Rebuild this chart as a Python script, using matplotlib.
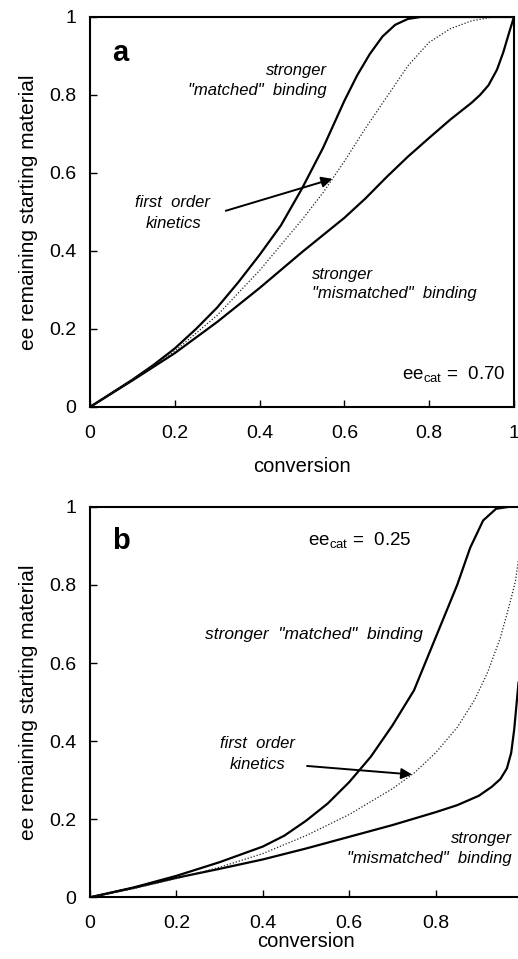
import matplotlib
matplotlib.use("Agg")
import matplotlib.pyplot as plt

plt.rcParams['font.family'] = ['Liberation Sans', 'DejaVu Sans']
plt.rcParams['mathtext.fontset'] = 'custom'
plt.rcParams['mathtext.rm'] = 'Liberation Sans'

# panel a (ee_cat = 0.70)
a_conv_matched = [0, 0.05, 0.1, 0.15, 0.2, 0.25, 0.3, 0.35, 0.4, 0.45, 0.5, 0.55,
                  0.6, 0.63, 0.66, 0.69, 0.72, 0.75, 0.78, 1.0]
a_ee_matched = [0, 0.035, 0.07, 0.108, 0.15, 0.2, 0.255, 0.32, 0.39, 0.465, 0.56, 0.665,
                0.785, 0.85, 0.905, 0.95, 0.98, 0.995, 1.0, 1.0]
a_conv_first = [0, 0.1, 0.2, 0.3, 0.4, 0.45, 0.5, 0.55, 0.6, 0.65, 0.7, 0.75, 0.8,
                0.85, 0.9, 0.95, 1.0]
a_ee_first = [0, 0.07, 0.143, 0.235, 0.35, 0.415, 0.48, 0.55, 0.63, 0.715, 0.795, 0.875,
              0.935, 0.97, 0.99, 1.0, 1.0]
a_conv_mismatched = [0, 0.1, 0.2, 0.3, 0.4, 0.5, 0.6, 0.65, 0.7, 0.75, 0.8, 0.85, 0.9,
                     0.92, 0.94, 0.96, 0.975, 0.99, 1.0]
a_ee_mismatched = [0, 0.068, 0.138, 0.218, 0.305, 0.397, 0.485, 0.535, 0.59, 0.642, 0.69,
                   0.737, 0.78, 0.8, 0.825, 0.865, 0.91, 0.965, 1.0]

# panel b (ee_cat = 0.25)
b_conv_matched = [0, 0.1, 0.2, 0.3, 0.4, 0.45, 0.5, 0.55, 0.6, 0.65, 0.7, 0.75, 0.8,
                  0.85, 0.88, 0.91, 0.94, 0.97, 1.0]
b_ee_matched = [0, 0.025, 0.055, 0.09, 0.13, 0.158, 0.196, 0.24, 0.295, 0.36, 0.44, 0.53,
                0.665, 0.8, 0.895, 0.965, 0.995, 1.0, 1.0]
b_conv_first = [0, 0.1, 0.2, 0.3, 0.4, 0.5, 0.6, 0.7, 0.75, 0.8, 0.85, 0.89, 0.92, 0.95,
                0.97, 0.985, 0.995, 1.0]
b_ee_first = [0, 0.022, 0.048, 0.077, 0.112, 0.158, 0.212, 0.278, 0.318, 0.37, 0.435,
              0.505, 0.575, 0.665, 0.745, 0.81, 0.89, 0.935]
b_conv_mismatched = [0, 0.1, 0.2, 0.3, 0.4, 0.5, 0.6, 0.7, 0.8, 0.85, 0.9, 0.93, 0.95,
                     0.965, 0.975, 0.982, 0.987, 0.992]
b_ee_mismatched = [0, 0.024, 0.05, 0.073, 0.097, 0.125, 0.155, 0.185, 0.218, 0.236, 0.26,
                   0.283, 0.303, 0.33, 0.37, 0.43, 0.49, 0.55]

ticks = [0, 0.2, 0.4, 0.6, 0.8, 1]
ticklabels = ['0', '0.2', '0.4', '0.6', '0.8', '1']

fig = plt.figure(figsize=(5.18, 9.59), dpi=100)
ax = fig.add_axes([0.1737, 0.5756, 0.8185, 0.4067])
ax1 = fig.add_axes([0.1737, 0.0643, 0.834, 0.4072])


def style(axx, xpad):
    axx.set_xlim(0, 1)
    axx.set_ylim(0, 1)
    axx.set_xticks(ticks)
    axx.set_yticks(ticks)
    axx.set_xticklabels(ticklabels)
    axx.set_yticklabels(ticklabels)
    axx.tick_params(direction='in', length=5, width=1, labelsize=14)
    axx.tick_params(axis='x', pad=13)
    axx.tick_params(axis='y', pad=10)
    for s in axx.spines.values():
        s.set_linewidth(1.5)
    axx.set_xlabel('conversion', fontsize=14.5, labelpad=xpad)
    axx.set_ylabel('ee remaining starting material', fontsize=15, labelpad=8)


style(ax, 11)
style(ax1, 0)
# the right end of panel b runs off the page, so its "1" label is not shown
ax1.set_xticklabels(ticklabels[:-1] + [''])

# panel a
ax.plot(a_conv_matched, a_ee_matched, color='k', lw=1.6)
ax.plot(a_conv_mismatched, a_ee_mismatched, color='k', lw=1.6)
ax.plot(a_conv_first, a_ee_first, color='#222222', lw=0.9, ls=(0, (1, 1.5)))
ax.annotate('', xy=(0.578, 0.587), xytext=(0.314, 0.501),
            arrowprops=dict(arrowstyle='-|>', color='k', lw=1.4, mutation_scale=16))
ax.text(0.052, 0.908, 'a', fontsize=21, fontweight='bold', ha='left', va='center')
ax.text(0.559, 0.864, 'stronger', fontsize=12, style='italic', ha='right', va='center')
ax.text(0.559, 0.812, '"matched"  binding', fontsize=12, style='italic', ha='right', va='center')
ax.text(0.195, 0.525, 'first  order', fontsize=12, style='italic', ha='center', va='center')
ax.text(0.197, 0.47, 'kinetics', fontsize=12, style='italic', ha='center', va='center')
ax.text(0.524, 0.339, 'stronger', fontsize=12, style='italic', ha='left', va='center')
ax.text(0.524, 0.29, '"mismatched"  binding', fontsize=12, style='italic', ha='left', va='center')
ax.text(0.979, 0.083, 'ee$_\\mathregular{cat}$ =  0.70', fontsize=13.5, ha='right', va='center')

# panel b
ax1.plot(b_conv_matched, b_ee_matched, color='k', lw=1.6)
ax1.plot(b_conv_mismatched, b_ee_mismatched, color='k', lw=1.6)
ax1.plot(b_conv_first, b_ee_first, color='#222222', lw=0.9, ls=(0, (1, 1.5)))
ax1.annotate('', xy=(0.752, 0.314), xytext=(0.496, 0.337),
             arrowprops=dict(arrowstyle='-|>', color='k', lw=1.4, mutation_scale=16))
ax1.text(0.052, 0.912, 'b', fontsize=21, fontweight='bold', ha='left', va='center')
ax1.text(0.504, 0.912, 'ee$_\\mathregular{cat}$ =  0.25', fontsize=13.5, ha='left', va='center')
ax1.text(0.267, 0.674, 'stronger  "matched"  binding', fontsize=12.5, style='italic',
         ha='left', va='center')
ax1.text(0.388, 0.395, 'first  order', fontsize=12, style='italic', ha='center', va='center')
ax1.text(0.388, 0.339, 'kinetics', fontsize=12, style='italic', ha='center', va='center')
ax1.text(0.977, 0.151, 'stronger', fontsize=12, style='italic', ha='right', va='center')
ax1.text(0.977, 0.1, '"mismatched"  binding', fontsize=12, style='italic', ha='right', va='center')

fig.savefig('out.png', dpi=100)
